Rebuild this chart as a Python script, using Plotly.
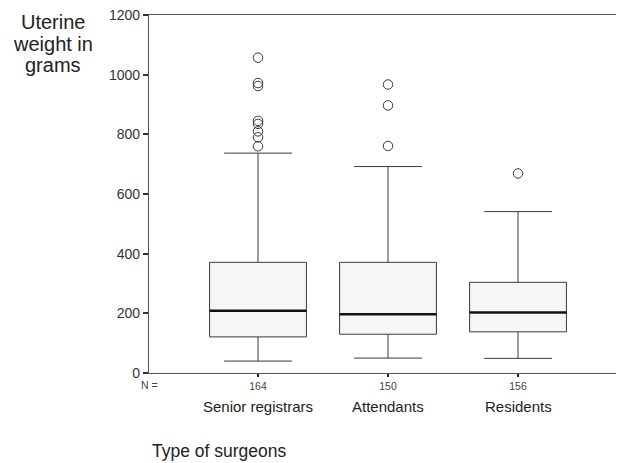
import plotly.graph_objects as go

categories = ["Senior registrars", "Attendants", "Residents"]
n_labels = ["164", "150", "156"]
q1 = [121, 130, 138]
median = [209, 197, 203]
q3 = [371, 371, 304]
lower_whisker = [40, 50, 49]
upper_whisker = [737, 692, 541]
outliers = [
    [1057, 972, 962, 845, 835, 810, 790, 760],
    [967, 897, 761],
    [669],
]

FONT = "Liberation Sans, Arial, sans-serif"
LINE = "#3a3a3a"
BOX_W = 0.745

# page offset (browser body margin)
OFF = 8
W, H = 624, 463
# desired plot area in window pixels
PL, PR, PT, PB = 149, 620, 15, 373
ml, mr, mt = PL - OFF, W - (PR - OFF), PT - OFF
mb = H - (PB - OFF)
plot_w = PR - PL
plot_h = PB - PT


def paper_x(xw):
    return (xw - PL) / plot_w


def paper_y(yw):
    return (PB - yw) / plot_h


fig = go.Figure()
xs = [1, 2, 3]
for i, x in enumerate(xs):
    fig.add_trace(go.Box(
        x=[x], q1=[q1[i]], median=[median[i]], q3=[q3[i]],
        lowerfence=[lower_whisker[i]], upperfence=[upper_whisker[i]],
        width=BOX_W, whiskerwidth=0.7,
        fillcolor="#f6f6f6", line=dict(color=LINE, width=1),
        boxpoints=False, showlegend=False, hoverinfo="skip",
    ))
    fig.add_trace(go.Scatter(
        x=[x - BOX_W / 2, x + BOX_W / 2], y=[median[i], median[i]],
        mode="lines", line=dict(color="#111111", width=2.5),
        showlegend=False, hoverinfo="skip",
    ))
    fig.add_trace(go.Scatter(
        x=[x] * len(outliers[i]), y=outliers[i], mode="markers",
        marker=dict(symbol="circle-open", size=9.5, color=LINE, line=dict(width=1)),
        showlegend=False, hoverinfo="skip",
    ))

x0 = 1 - (258 - PL) / 130
x1 = x0 + plot_w / 130

fig.update_layout(
    width=W, height=H,
    margin=dict(l=ml, r=mr, t=mt, b=mb, autoexpand=False),
    paper_bgcolor="white", plot_bgcolor="white",
    font=dict(family=FONT, color="#333333"),
    xaxis=dict(
        range=[x0, x1], tickvals=xs, ticktext=n_labels,
        tickfont=dict(size=10.5, color="#444"),
        showline=True, linecolor="#555", linewidth=1.2, mirror=True,
        ticks="outside", ticklen=3, tickcolor="#222", tickwidth=2,
        showgrid=False, zeroline=False,
    ),
    yaxis=dict(
        range=[0, 1200], tickvals=[0, 200, 400, 600, 800, 1000, 1200],
        tickfont=dict(size=14, color="#333"),
        showline=True, linecolor="#555", linewidth=1.2,
        ticks="outside", ticklen=5, tickcolor="#333", tickwidth=1.5,
        ticklabeloverflow="allow",
        showgrid=False, zeroline=False,
    ),
)

annotations = []
for i, x in enumerate(xs):
    annotations.append(dict(
        x=x, y=paper_y(406.5), xref="x", yref="paper", yanchor="middle",
        text=categories[i], showarrow=False,
        font=dict(size=15, color="#222", family=FONT),
    ))
annotations.append(dict(
    x=paper_x(149), y=paper_y(385), xref="paper", yref="paper",
    text="N =", showarrow=False, font=dict(size=10.5, color="#444", family=FONT),
    xanchor="center", yanchor="middle",
))
annotations.append(dict(
    x=paper_x(150), y=paper_y(451), xref="paper", yref="paper",
    text="Type of surgeons", showarrow=False,
    font=dict(size=17.5, color="#222", family=FONT),
    xanchor="left", yanchor="middle",
))
for text, yw in [("Uterine", 22), ("weight in", 43.5), ("grams", 65)]:
    annotations.append(dict(
        x=paper_x(53), y=paper_y(yw), xref="paper", yref="paper",
        text=text, showarrow=False,
        font=dict(size=20, color="#222", family=FONT),
        xanchor="center", yanchor="middle",
    ))
fig.update_layout(annotations=annotations)

fig.write_html("out.html")
